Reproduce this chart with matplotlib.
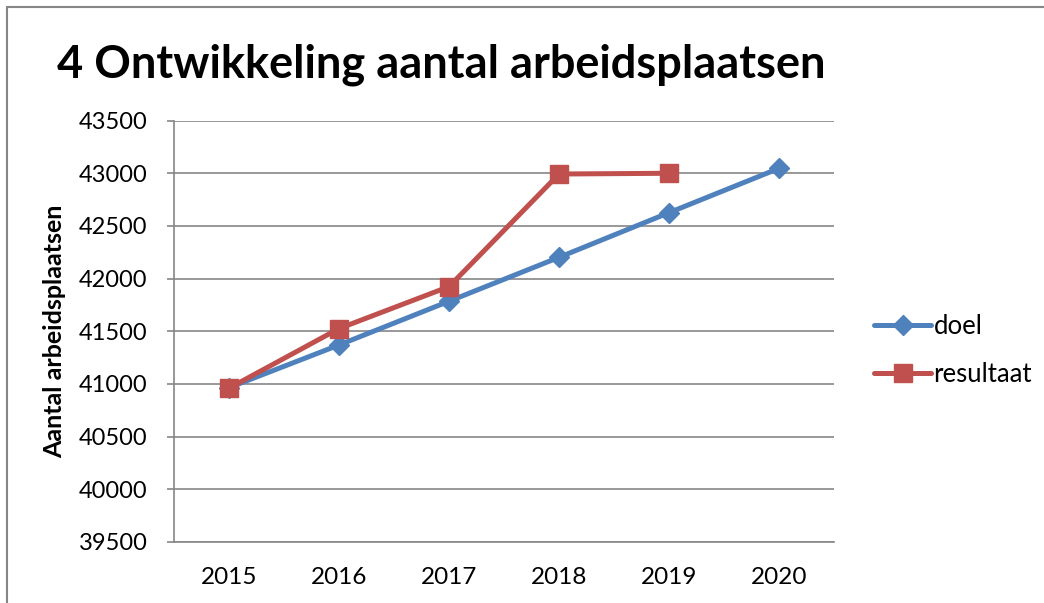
import matplotlib.pyplot as plt
from matplotlib.patches import Rectangle

years = ['2015', '2016', '2017', '2018', '2019', '2020']
doel = [40965, 41370, 41785, 42202, 42626, 43047]
resultaat = [40960, 41526, 41924, 42993, 43000]

plt.rcParams['font.family'] = ['Lato', 'DejaVu Sans']

fig = plt.figure(figsize=(10.44, 6.03), dpi=100)
ax = fig.add_axes([0.1667, 0.1012, 0.6322, 0.6988])

x = range(len(years))
ax.plot(x, doel, color='#4F81BD', lw=3.6, marker='D', markersize=10,
        label='doel', solid_capstyle='round')
ax.plot(range(len(resultaat)), resultaat, color='#C0504D', lw=3.6, marker='s',
        markersize=13, label='resultaat', solid_capstyle='round')

ax.set_xlim(-0.5, len(years) - 0.5)
ax.set_ylim(39500, 43500)
ax.set_yticks(range(39500, 43501, 500))
ax.set_xticks(list(x))
ax.set_xticklabels(years)
ax.tick_params(axis='x', length=0, pad=18, labelsize=17.5)
ax.tick_params(axis='y', length=5, width=1.2, color='#868686', pad=14, labelsize=17)
ax.grid(axis='y', color='#868686', lw=1.2)
ax.set_axisbelow(True)
for side in ['top', 'right']:
    ax.spines[side].set_visible(False)
for side in ['left', 'bottom']:
    ax.spines[side].set_color('#868686')
    ax.spines[side].set_linewidth(1.2)

ax.set_ylabel('Aantal arbeidsplaatsen', fontsize=18, fontweight='bold')
ax.yaxis.set_label_coords(-0.164, 0.5)

fig.text(0.055, 0.893, '4 Ontwikkeling aantal arbeidsplaatsen', fontsize=32.5,
         fontweight='bold', va='center', ha='left')

ax.legend(loc='center left', bbox_to_anchor=(1.026, 0.455), frameon=False,
          fontsize=18.5, handlelength=2.2, handletextpad=0.1, labelspacing=0.9)

fig.patches.append(Rectangle((7 / 1044, -0.1), 1.2, 1 - 7 / 603 + 0.1,
                             transform=fig.transFigure, fill=False,
                             edgecolor='#868686', lw=1.5))

fig.savefig('out.png', dpi=100)
